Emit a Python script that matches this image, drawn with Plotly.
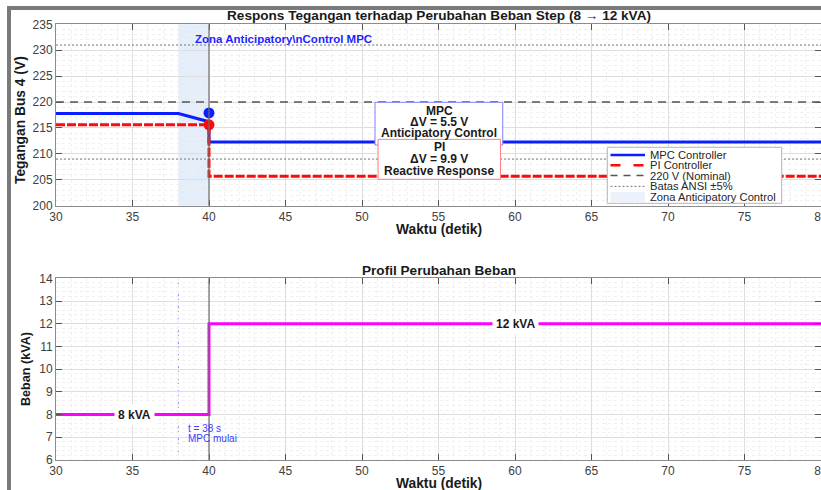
import plotly.graph_objects as go

# ---------------- data ----------------
t_mpc = [30, 38, 40, 40, 80]
v_mpc = [217.8, 217.8, 216.2, 212.3, 212.3]
t_pi = [30, 40, 40, 80]
v_pi = [215.6, 215.6, 205.7, 205.7]
t_mark = [40]
v_mark_mpc = [217.9]
v_mark_pi = [215.6]
v_nominal = 220
v_ansi = [231, 209]
t_zone = [38, 40]
t_load = [30, 40, 40, 80]
load_kva = [8, 8, 12, 12]
x_ticks = [30, 35, 40, 45, 50, 55, 60, 65, 70, 75, 80]

W, H = 821, 490
FONT = "Liberation Sans, Arial, sans-serif"

def px(x):
    return x / W

def py(y):
    return 1 - y / H

fig = go.Figure()

# top panel traces
fig.add_trace(go.Scatter(x=[30, 80], y=[v_nominal, v_nominal], mode="lines",
                         line=dict(color="#555555", width=1.5, dash="8px,6px"),
                         xaxis="x", yaxis="y", showlegend=False))
for v in v_ansi:
    fig.add_trace(go.Scatter(x=[30, 80], y=[v, v], mode="lines",
                             line=dict(color="#777777", width=1, dash="2px,2px"),
                             xaxis="x", yaxis="y", showlegend=False))
fig.add_trace(go.Scatter(x=t_mpc, y=v_mpc, mode="lines",
                         line=dict(color="#0a1eff", width=3),
                         xaxis="x", yaxis="y", showlegend=False))
fig.add_trace(go.Scatter(x=t_pi, y=v_pi, mode="lines",
                         line=dict(color="#ff0a0a", width=3, dash="9px,2px"),
                         xaxis="x", yaxis="y", showlegend=False))
fig.add_trace(go.Scatter(x=t_mark, y=v_mark_mpc, mode="markers",
                         marker=dict(color="#0a1eff", size=11),
                         xaxis="x", yaxis="y", showlegend=False))
fig.add_trace(go.Scatter(x=t_mark, y=v_mark_pi, mode="markers",
                         marker=dict(color="#ff0a0a", size=11),
                         xaxis="x", yaxis="y", showlegend=False))

# bottom panel traces
fig.add_trace(go.Scatter(x=t_load, y=load_kva, mode="lines",
                         line=dict(color="#ff00ff", width=3, shape="linear"),
                         xaxis="x2", yaxis="y2", showlegend=False))

shapes = []
# anticipatory zone
shapes.append(dict(type="rect", xref="x", yref="y domain", x0=t_zone[0], x1=t_zone[1],
                   y0=0, y1=1, fillcolor="rgba(120,165,230,0.2)", line_width=0, layer="below"))
# vertical line at step time (both panels)
for xr, yr in [("x", "y domain"), ("x2", "y2 domain")]:
    shapes.append(dict(type="line", xref=xr, yref=yr, x0=t_zone[1], x1=t_zone[1], y0=0, y1=1,
                       line=dict(color="#6e6e6e", width=1.2), layer="above"))
# MPC start line in bottom panel
shapes.append(dict(type="line", xref="x2", yref="y2 domain", x0=t_zone[0], x1=t_zone[0], y0=0, y1=1,
                   line=dict(color="#8a8aff", width=1, dash="2px,2px"), layer="below"))

# annotation boxes (top panel)
shapes.append(dict(type="rect", xref="x", yref="y", x0=50.85, x1=59.2, y0=211.7, y1=219.95,
                   fillcolor="white", line=dict(color="#7f7fff", width=1), layer="above"))
shapes.append(dict(type="rect", xref="x", yref="y", x0=51.05, x1=59.05, y0=205.1, y1=212.8,
                   fillcolor="white", line=dict(color="#ff8080", width=1), layer="above"))

# manual legend
lx0, lx1, ly0, ly1 = 607.3, 781.7, 147.3, 203.3
shapes.append(dict(type="rect", xref="paper", yref="paper", x0=px(lx0), x1=px(lx1),
                   y0=py(ly1), y1=py(ly0), fillcolor="white",
                   line=dict(color="#b4b4b4", width=1), layer="above"))
leg_y = [155, 165.2, 175.6, 186.4, 197]
sx0, sx1 = 610.5, 645
shapes.append(dict(type="line", xref="paper", yref="paper", x0=px(sx0), x1=px(sx1),
                   y0=py(leg_y[0]), y1=py(leg_y[0]), line=dict(color="#0a1eff", width=2.5), layer="above"))
shapes.append(dict(type="line", xref="paper", yref="paper", x0=px(sx0), x1=px(sx1),
                   y0=py(leg_y[1]), y1=py(leg_y[1]), line=dict(color="#ff0a0a", width=2.5, dash="10px,13px"),
                   layer="above"))
shapes.append(dict(type="line", xref="paper", yref="paper", x0=px(sx0), x1=px(sx1),
                   y0=py(leg_y[2]), y1=py(leg_y[2]), line=dict(color="#555555", width=1.5, dash="7px,6px"),
                   layer="above"))
shapes.append(dict(type="line", xref="paper", yref="paper", x0=px(sx0), x1=px(sx1),
                   y0=py(leg_y[3]), y1=py(leg_y[3]), line=dict(color="#777777", width=1, dash="2px,2px"),
                   layer="above"))
shapes.append(dict(type="rect", xref="paper", yref="paper", x0=px(sx0), x1=px(sx1),
                   y0=py(leg_y[4] + 5), y1=py(leg_y[4] - 5), fillcolor="rgba(120,165,230,0.15)",
                   line_width=0, layer="above"))

# outer gray frame (screenshot border)
shapes.append(dict(type="rect", xref="paper", yref="paper", x0=px(9), x1=1.1, y0=-0.1, y1=py(8),
                   line=dict(color="#7a7a7a", width=4), fillcolor="rgba(0,0,0,0)", layer="above"))

annotations = []
def txt(text, x, y, xref="paper", yref="paper", size=11, bold=True, color="#1a1a1a",
        xanchor="center", yanchor="middle", textangle=0, bg=None):
    a = dict(text=f"<b>{text}</b>" if bold else text, x=x, y=y, xref=xref, yref=yref,
             showarrow=False, xanchor=xanchor, yanchor=yanchor, textangle=textangle,
             font=dict(family=FONT, size=size, color=color))
    if bg:
        a.update(bgcolor=bg, borderpad=3)
    annotations.append(a)

# titles
txt("Respons Tegangan terhadap Perubahan Beban Step (8 → 12 kVA)", px(439), py(15.5), size=13.6)
txt("Profil Perubahan Beban", px(439), py(270), size=13.6)
txt("Waktu (detik)", px(439), py(229.5), size=13.8)
txt("Waktu (detik)", px(439), py(483), size=13.8)
txt("Tegangan Bus 4 (V)", px(20), py(120), size=13.8, textangle=-90)
txt("Beban (kVA)", px(26), py(369), size=12.6, textangle=-90)

# zone label
txt("Zona Anticipatory\\nControl MPC", 38.95, 232.2, xref="x", yref="y", size=11.5,
    color="#1f1fff", xanchor="left")

# box texts
for s, yv in [("MPC", 218.33), ("ΔV = 5.5 V", 216.09), ("Anticipatory Control", 213.97)]:
    txt(s, 55.06, yv, xref="x", yref="y", size=12)
for s, yv in [("PI", 211.27), ("ΔV = 9.9 V", 208.95), ("Reactive Response", 206.75)]:
    txt(s, 55.06, yv, xref="x", yref="y", size=12)

# legend texts
for s, yv in zip(["MPC Controller", "PI Controller", "220 V (Nominal)", "Batas ANSI ±5%",
                  "Zona Anticipatory Control"], leg_y):
    txt(s, px(648), py(yv), size=11.2, bold=False, color="#262626", xanchor="left")

# bottom panel labels
txt("8 kVA", 35.1, 8, xref="x2", yref="y2", size=12, bg="white")
txt("12 kVA", 60.0, 12, xref="x2", yref="y2", size=12, bg="white")
txt("t = 38 s", 38.5, 7.39, xref="x2", yref="y2", size=10, bold=False,
    color="#3c3cff", xanchor="left")
txt("MPC mulai", 38.5, 6.94, xref="x2", yref="y2", size=10, bold=False,
    color="#3c3cff", xanchor="left")

common_x = dict(range=[30, 80], tickvals=x_ticks, ticks="inside", ticklen=6, tickcolor="#555555",
                showline=True, linecolor="#8c8c8c", linewidth=1, mirror="ticks",
                showgrid=True, gridcolor="#dedede", gridwidth=1, zeroline=False,
                minor=dict(dtick=1, showgrid=True, gridcolor="#f0f0f0", griddash="dot", gridwidth=1),
                tickfont=dict(family=FONT, size=12, color="#404040"), automargin=False,
                ticklabeloverflow="allow", domain=[px(56), 1.0])
common_y = dict(ticks="inside", ticklen=6, tickcolor="#555555",
                showline=True, linecolor="#8c8c8c", linewidth=1, mirror="ticks",
                showgrid=True, gridcolor="#dedede", gridwidth=1, zeroline=False,
                tickfont=dict(family=FONT, size=12, color="#404040"), automargin=False)

fig.update_layout(
    width=W, height=H,
    margin=dict(l=0, r=0, t=0, b=0),
    paper_bgcolor="white", plot_bgcolor="white",
    showlegend=False,
    xaxis=dict(common_x, anchor="y"),
    yaxis=dict(common_y, range=[200, 235], dtick=5,
               minor=dict(dtick=1, showgrid=True, gridcolor="#f0f0f0", griddash="dot", gridwidth=1),
               domain=[py(205.7), py(24.3)], anchor="x"),
    xaxis2=dict(common_x, anchor="y2"),
    yaxis2=dict(common_y, range=[6, 14], dtick=1,
                minor=dict(dtick=0.2, showgrid=True, gridcolor="#f0f0f0", griddash="dot", gridwidth=1),
                domain=[py(460), py(278.3)], anchor="x2"),
    shapes=shapes,
    annotations=annotations,
)

fig.write_html("out.html", config={"displayModeBar": False},
               post_script="document.body.style.margin='0';document.body.style.overflow='hidden';")
